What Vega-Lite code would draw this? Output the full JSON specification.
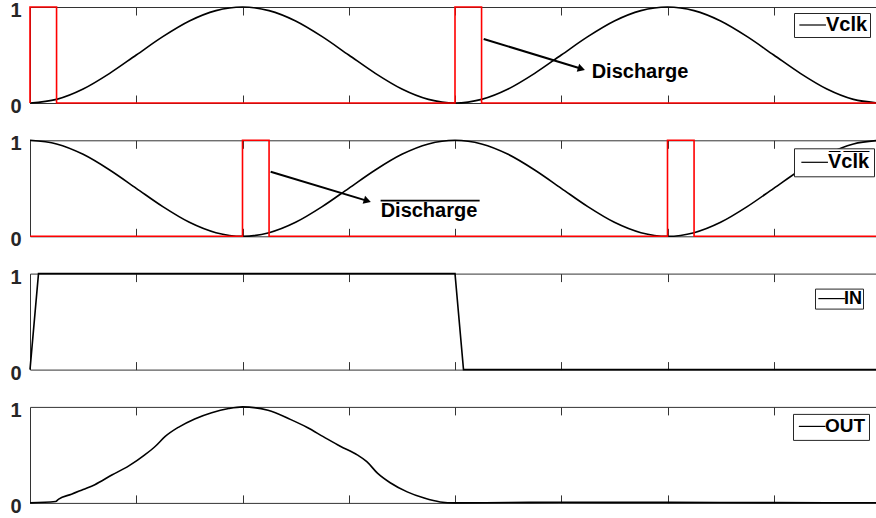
{
  "$schema": "https://vega.github.io/schema/vega-lite/v6.json",
  "background": "white",
  "padding": {"left": 9, "top": 0, "right": 0, "bottom": 0},
  "config": {
    "view": {"stroke": "#333333", "strokeWidth": 1},
    "font": "Liberation Sans",
    "axisY": {"title": null, "format": "d", "domain": false, "grid": false, "ticks": false, "tickSize": 0, "labelPadding": 9, "labelOffset": 3.5, "labelFont": "Liberation Sans", "labelFontWeight": "bold", "labelFontSize": 20, "labelColor": "#262626"},
    "axisX": {"title": null, "labels": false, "domain": false, "grid": false, "ticks": true, "tickSize": -8, "tickColor": "#333333", "tickWidth": 1},
    "legend": {"orient": "none", "title": null, "symbolType": "M-1,0H3", "symbolSize": 177, "symbolStrokeWidth": 1.2, "symbolFillColor": "transparent", "labelFont": "Liberation Sans", "labelFontWeight": "bold", "labelFontSize": 20, "labelColor": "black", "labelOffset": 10, "padding": 2, "strokeColor": "#262626", "fillColor": "white"}
  },
  "datasets": {
    "v1": [
      {"t":0,"v":0,"s":"Vclk"},{"t":0.25,"v":0.038,"s":"Vclk"},{"t":0.5,"v":0.146,"s":"Vclk"},{"t":0.75,"v":0.309,"s":"Vclk"},
      {"t":1,"v":0.5,"s":"Vclk"},{"t":1.25,"v":0.691,"s":"Vclk"},{"t":1.5,"v":0.854,"s":"Vclk"},{"t":1.75,"v":0.962,"s":"Vclk"},
      {"t":2,"v":1,"s":"Vclk"},{"t":2.25,"v":0.962,"s":"Vclk"},{"t":2.5,"v":0.854,"s":"Vclk"},{"t":2.75,"v":0.691,"s":"Vclk"},
      {"t":3,"v":0.5,"s":"Vclk"},{"t":3.25,"v":0.309,"s":"Vclk"},{"t":3.5,"v":0.146,"s":"Vclk"},{"t":3.75,"v":0.038,"s":"Vclk"},
      {"t":4,"v":0,"s":"Vclk"},{"t":4.25,"v":0.038,"s":"Vclk"},{"t":4.5,"v":0.146,"s":"Vclk"},{"t":4.75,"v":0.309,"s":"Vclk"},
      {"t":5,"v":0.5,"s":"Vclk"},{"t":5.25,"v":0.691,"s":"Vclk"},{"t":5.5,"v":0.854,"s":"Vclk"},{"t":5.75,"v":0.962,"s":"Vclk"},
      {"t":6,"v":1,"s":"Vclk"},{"t":6.25,"v":0.962,"s":"Vclk"},{"t":6.5,"v":0.854,"s":"Vclk"},{"t":6.75,"v":0.691,"s":"Vclk"},
      {"t":7,"v":0.5,"s":"Vclk"},{"t":7.25,"v":0.309,"s":"Vclk"},{"t":7.5,"v":0.146,"s":"Vclk"},{"t":7.75,"v":0.038,"s":"Vclk"},
      {"t":8,"v":0,"s":"Vclk"}
    ],
    "r1": [
      {"o":1,"t":0,"v":0},{"o":2,"t":0,"v":1},{"o":3,"t":0.25,"v":1},{"o":4,"t":0.25,"v":0},
      {"o":5,"t":4,"v":0},{"o":6,"t":4,"v":1},{"o":7,"t":4.25,"v":1},{"o":8,"t":4.25,"v":0},{"o":9,"t":8,"v":0}
    ],
    "v2": [
      {"t":0,"v":1,"s":"V\u0305c\u0305l\u0305k\u0305"},{"t":0.25,"v":0.962,"s":"V\u0305c\u0305l\u0305k\u0305"},{"t":0.5,"v":0.854,"s":"V\u0305c\u0305l\u0305k\u0305"},{"t":0.75,"v":0.691,"s":"V\u0305c\u0305l\u0305k\u0305"},
      {"t":1,"v":0.5,"s":"V\u0305c\u0305l\u0305k\u0305"},{"t":1.25,"v":0.309,"s":"V\u0305c\u0305l\u0305k\u0305"},{"t":1.5,"v":0.146,"s":"V\u0305c\u0305l\u0305k\u0305"},{"t":1.75,"v":0.038,"s":"V\u0305c\u0305l\u0305k\u0305"},
      {"t":2,"v":0,"s":"V\u0305c\u0305l\u0305k\u0305"},{"t":2.25,"v":0.038,"s":"V\u0305c\u0305l\u0305k\u0305"},{"t":2.5,"v":0.146,"s":"V\u0305c\u0305l\u0305k\u0305"},{"t":2.75,"v":0.309,"s":"V\u0305c\u0305l\u0305k\u0305"},
      {"t":3,"v":0.5,"s":"V\u0305c\u0305l\u0305k\u0305"},{"t":3.25,"v":0.691,"s":"V\u0305c\u0305l\u0305k\u0305"},{"t":3.5,"v":0.854,"s":"V\u0305c\u0305l\u0305k\u0305"},{"t":3.75,"v":0.962,"s":"V\u0305c\u0305l\u0305k\u0305"},
      {"t":4,"v":1,"s":"V\u0305c\u0305l\u0305k\u0305"},{"t":4.25,"v":0.962,"s":"V\u0305c\u0305l\u0305k\u0305"},{"t":4.5,"v":0.854,"s":"V\u0305c\u0305l\u0305k\u0305"},{"t":4.75,"v":0.691,"s":"V\u0305c\u0305l\u0305k\u0305"},
      {"t":5,"v":0.5,"s":"V\u0305c\u0305l\u0305k\u0305"},{"t":5.25,"v":0.309,"s":"V\u0305c\u0305l\u0305k\u0305"},{"t":5.5,"v":0.146,"s":"V\u0305c\u0305l\u0305k\u0305"},{"t":5.75,"v":0.038,"s":"V\u0305c\u0305l\u0305k\u0305"},
      {"t":6,"v":0,"s":"V\u0305c\u0305l\u0305k\u0305"},{"t":6.25,"v":0.038,"s":"V\u0305c\u0305l\u0305k\u0305"},{"t":6.5,"v":0.146,"s":"V\u0305c\u0305l\u0305k\u0305"},{"t":6.75,"v":0.309,"s":"V\u0305c\u0305l\u0305k\u0305"},
      {"t":7,"v":0.5,"s":"V\u0305c\u0305l\u0305k\u0305"},{"t":7.25,"v":0.691,"s":"V\u0305c\u0305l\u0305k\u0305"},{"t":7.5,"v":0.854,"s":"V\u0305c\u0305l\u0305k\u0305"},{"t":7.75,"v":0.962,"s":"V\u0305c\u0305l\u0305k\u0305"},
      {"t":8,"v":1,"s":"V\u0305c\u0305l\u0305k\u0305"}
    ],
    "r2": [
      {"o":1,"t":0,"v":0},{"o":2,"t":2,"v":0},{"o":3,"t":2,"v":1},{"o":4,"t":2.25,"v":1},{"o":5,"t":2.25,"v":0},
      {"o":6,"t":6,"v":0},{"o":7,"t":6,"v":1},{"o":8,"t":6.25,"v":1},{"o":9,"t":6.25,"v":0},{"o":10,"t":8,"v":0}
    ],
    "inp": [
      {"t":0,"v":0,"s":"IN"},{"t":0.08,"v":1,"s":"IN"},{"t":4.0,"v":1,"s":"IN"},{"t":4.08,"v":0,"s":"IN"},{"t":8,"v":0,"s":"IN"}
    ],
    "out": [
      {"t":0,"v":0,"s":"OUT"},{"t":0.24,"v":0.014,"s":"OUT"},{"t":0.27,"v":0.04,"s":"OUT"},{"t":0.39,"v":0.09,"s":"OUT"},
      {"t":0.5,"v":0.14,"s":"OUT"},{"t":0.61,"v":0.19,"s":"OUT"},{"t":0.77,"v":0.29,"s":"OUT"},{"t":0.93,"v":0.385,"s":"OUT"},
      {"t":1.08,"v":0.5,"s":"OUT"},{"t":1.18,"v":0.59,"s":"OUT"},{"t":1.27,"v":0.69,"s":"OUT"},{"t":1.4,"v":0.79,"s":"OUT"},
      {"t":1.55,"v":0.875,"s":"OUT"},{"t":1.71,"v":0.94,"s":"OUT"},{"t":1.87,"v":0.983,"s":"OUT"},{"t":2.0,"v":1.0,"s":"OUT"},
      {"t":2.24,"v":0.965,"s":"OUT"},{"t":2.45,"v":0.87,"s":"OUT"},{"t":2.61,"v":0.785,"s":"OUT"},{"t":2.76,"v":0.69,"s":"OUT"},
      {"t":2.92,"v":0.59,"s":"OUT"},{"t":3.08,"v":0.5,"s":"OUT"},{"t":3.17,"v":0.43,"s":"OUT"},{"t":3.27,"v":0.31,"s":"OUT"},
      {"t":3.39,"v":0.21,"s":"OUT"},{"t":3.55,"v":0.115,"s":"OUT"},{"t":3.71,"v":0.05,"s":"OUT"},{"t":3.86,"v":0.01,"s":"OUT"},
      {"t":4.0,"v":0.0,"s":"OUT"},{"t":4.5,"v":0.004,"s":"OUT"},{"t":5,"v":0.006,"s":"OUT"},{"t":6,"v":0.005,"s":"OUT"},
      {"t":7,"v":0.003,"s":"OUT"},{"t":8,"v":0.001,"s":"OUT"}
    ],
    "arrow1": [{"x1":4.27,"y1":0.667,"x2":5.19,"y2":0.356}],
    "arrow2": [{"x1":2.265,"y1":0.672,"x2":3.175,"y2":0.369}],
    "label1": [{"x":5.286,"y":0.257,"txt":"Discharge"}],
    "label2": [{"x":3.30,"y":0.204,"txt":"Discharge","ox1":3.30,"ox2":4.232,"oy":0.372}]
  },
  "vconcat": [
    {
      "width": 850, "height": 96,
      "resolve": {"axis": {"x": "independent"}},
      "layer": [
        {
          "data": {"name": "v1"},
          "mark": {"type": "line", "interpolate": "monotone", "strokeWidth": 1.6},
          "encoding": {
            "x": {"field": "t", "type": "quantitative", "scale": {"domain": [0, 8], "nice": false},
                  "axis": {"orient": "bottom", "values": [1,2,3,4,5,6,7]}},
            "y": {"field": "v", "type": "quantitative", "scale": {"domain": [0, 1], "nice": false}, "axis": {"values": [0, 1], "title": null}},
            "color": {"field": "s", "type": "nominal", "scale": {"range": ["black"]},
                      "legend": {"legendX": 764, "legendY": 6}}
          }
        },
        {
          "data": {"name": "r1"},
          "mark": {"type": "line", "color": "#ff0000", "strokeWidth": 1.6},
          "encoding": {
            "x": {"field": "t", "type": "quantitative", "axis": {"orient": "top", "values": [1,2,3,4,5,6,7]}},
            "y": {"field": "v", "type": "quantitative", "axis": {"values": [0, 1], "title": null}},
            "order": {"field": "o", "type": "quantitative"}
          }
        },
        {
          "data": {"name": "arrow1"},
          "mark": {"type": "rule", "color": "black", "strokeWidth": 2},
          "encoding": {
            "x": {"field": "x1", "type": "quantitative", "axis": null},
            "y": {"field": "y1", "type": "quantitative", "axis": {"values": [0, 1], "title": null}},
            "x2": {"field": "x2"}, "y2": {"field": "y2"}
          }
        },
        {
          "data": {"name": "arrow1"},
          "mark": {"type": "point", "shape": "triangle-right", "filled": true, "color": "black", "size": 70, "angle": 17, "opacity": 1},
          "encoding": {
            "x": {"field": "x2", "type": "quantitative", "axis": null},
            "y": {"field": "y2", "type": "quantitative", "axis": {"values": [0, 1], "title": null}}
          }
        },
        {
          "data": {"name": "label1"},
          "mark": {"type": "text", "align": "left", "baseline": "alphabetic", "font": "Liberation Sans", "fontWeight": "bold", "fontSize": 20, "color": "black"},
          "encoding": {
            "x": {"field": "x", "type": "quantitative", "axis": null},
            "y": {"field": "y", "type": "quantitative", "axis": {"values": [0, 1], "title": null}},
            "text": {"field": "txt"}
          }
        }
      ]
    },
    {
      "width": 850, "height": 96,
      "resolve": {"axis": {"x": "independent"}},
      "layer": [
        {
          "data": {"name": "v2"},
          "mark": {"type": "line", "interpolate": "monotone", "strokeWidth": 1.6},
          "encoding": {
            "x": {"field": "t", "type": "quantitative", "scale": {"domain": [0, 8], "nice": false},
                  "axis": {"orient": "bottom", "values": [1,2,3,4,5,6,7]}},
            "y": {"field": "v", "type": "quantitative", "scale": {"domain": [0, 1], "nice": false}, "axis": {"values": [0, 1], "title": null}},
            "color": {"field": "s", "type": "nominal", "scale": {"range": ["black"]},
                      "legend": {"legendX": 764, "legendY": 8, "padding": 4}}
          }
        },
        {
          "data": {"name": "r2"},
          "mark": {"type": "line", "color": "#ff0000", "strokeWidth": 1.6},
          "encoding": {
            "x": {"field": "t", "type": "quantitative", "axis": {"orient": "top", "values": [1,2,3,4,5,6,7]}},
            "y": {"field": "v", "type": "quantitative", "axis": {"values": [0, 1], "title": null}},
            "order": {"field": "o", "type": "quantitative"}
          }
        },
        {
          "data": {"name": "arrow2"},
          "mark": {"type": "rule", "color": "black", "strokeWidth": 2},
          "encoding": {
            "x": {"field": "x1", "type": "quantitative", "axis": null},
            "y": {"field": "y1", "type": "quantitative", "axis": {"values": [0, 1], "title": null}},
            "x2": {"field": "x2"}, "y2": {"field": "y2"}
          }
        },
        {
          "data": {"name": "arrow2"},
          "mark": {"type": "point", "shape": "triangle-right", "filled": true, "color": "black", "size": 70, "angle": 17, "opacity": 1},
          "encoding": {
            "x": {"field": "x2", "type": "quantitative", "axis": null},
            "y": {"field": "y2", "type": "quantitative", "axis": {"values": [0, 1], "title": null}}
          }
        },
        {
          "data": {"name": "label2"},
          "mark": {"type": "text", "align": "left", "baseline": "alphabetic", "font": "Liberation Sans", "fontWeight": "bold", "fontSize": 20, "color": "black"},
          "encoding": {
            "x": {"field": "x", "type": "quantitative", "axis": null},
            "y": {"field": "y", "type": "quantitative", "axis": {"values": [0, 1], "title": null}},
            "text": {"field": "txt"}
          }
        },
        {
          "data": {"name": "label2"},
          "mark": {"type": "rule", "color": "black", "strokeWidth": 1.6},
          "encoding": {
            "x": {"field": "ox1", "type": "quantitative", "axis": null},
            "x2": {"field": "ox2"},
            "y": {"field": "oy", "type": "quantitative", "axis": {"values": [0, 1], "title": null}}
          }
        }
      ]
    },
    {
      "width": 850, "height": 96,
      "resolve": {"axis": {"x": "independent"}},
      "layer": [
        {
          "data": {"name": "inp"},
          "mark": {"type": "line", "strokeWidth": 1.6},
          "encoding": {
            "x": {"field": "t", "type": "quantitative", "scale": {"domain": [0, 8], "nice": false},
                  "axis": {"orient": "bottom", "values": [1,2,3,4,5,6,7]}},
            "y": {"field": "v", "type": "quantitative", "scale": {"domain": [0, 1], "nice": false}, "axis": {"values": [0, 1], "title": null}},
            "color": {"field": "s", "type": "nominal", "scale": {"range": ["black"]},
                      "legend": {"legendX": 785, "legendY": 15, "labelFontSize": 18, "padding": 1}}
          }
        },
        {
          "data": {"name": "inp"},
          "mark": {"type": "line", "strokeOpacity": 0},
          "encoding": {
            "x": {"field": "t", "type": "quantitative", "axis": {"orient": "top", "values": [1,2,3,4,5,6,7]}},
            "y": {"field": "v", "type": "quantitative", "axis": {"values": [0, 1], "title": null}}
          }
        }
      ]
    },
    {
      "width": 850, "height": 96,
      "resolve": {"axis": {"x": "independent"}},
      "layer": [
        {
          "data": {"name": "out"},
          "mark": {"type": "line", "interpolate": "monotone", "strokeWidth": 1.6},
          "encoding": {
            "x": {"field": "t", "type": "quantitative", "scale": {"domain": [0, 8], "nice": false},
                  "axis": {"orient": "bottom", "values": [1,2,3,4,5,6,7]}},
            "y": {"field": "v", "type": "quantitative", "scale": {"domain": [0, 1], "nice": false}, "axis": {"values": [0, 1], "title": null}},
            "color": {"field": "s", "type": "nominal", "scale": {"range": ["black"]},
                      "legend": {"legendX": 763, "legendY": 7, "labelFontSize": 19, "padding": 3}}
          }
        },
        {
          "data": {"name": "out"},
          "mark": {"type": "line", "strokeOpacity": 0},
          "encoding": {
            "x": {"field": "t", "type": "quantitative", "axis": {"orient": "top", "values": [1,2,3,4,5,6,7]}},
            "y": {"field": "v", "type": "quantitative", "axis": {"values": [0, 1], "title": null}}
          }
        }
      ]
    }
  ],
  "spacing": 16.3,
  "resolve": {"scale": {"color": "independent", "x": "independent", "y": "independent"}}
}
